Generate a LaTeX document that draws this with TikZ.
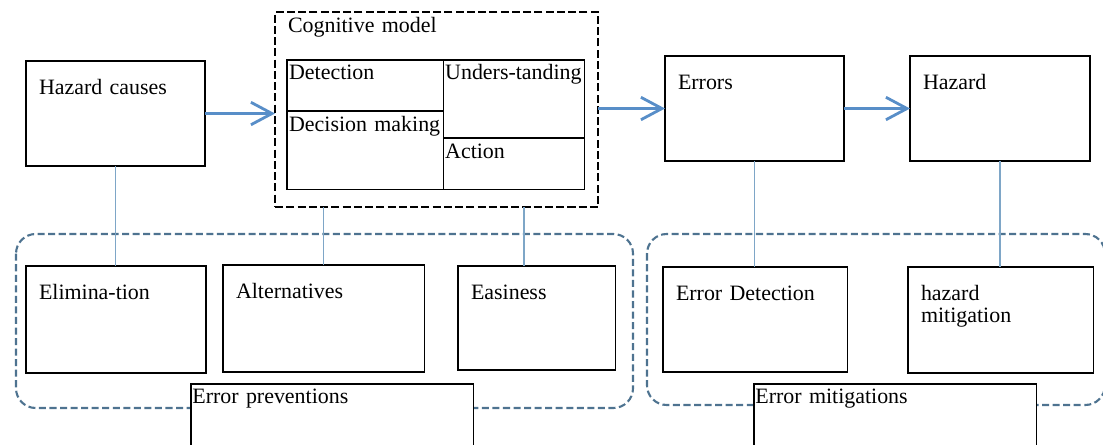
\documentclass[tikz,border=0pt]{standalone}
\usepackage{fontspec}
\setmainfont{Liberation Serif}
\usetikzlibrary{arrows.meta,calc}
\definecolor{flowblue}{RGB}{88,142,200}
\definecolor{linkblue}{RGB}{126,166,199}
\definecolor{groupblue}{RGB}{78,115,144}
\tikzset{
  every node/.style={font=\fontsize{15.6}{16}\selectfont},
  flowbox/.style 2 args={draw, line width=0.8pt, fill=white, anchor=north west,
    outer sep=0pt, inner xsep=9.25pt, inner ysep=0pt, align=left,
    text width=#1, text height=23.5pt, text depth=#2},
  cellbox/.style 2 args={draw, line width=0.8pt, fill=white, anchor=north west,
    outer sep=0pt, inner xsep=1.5pt, inner ysep=0pt, align=left,
    text width=#1, text height=14.2pt, text depth=#2},
  tagbox/.style 2 args={cellbox={#1}{#2}, inner xsep=1pt},
  cogbox/.style={draw, line width=2pt, dash pattern=on 5.7pt off 2.3pt,
    anchor=north west, outer sep=0pt, inner xsep=9.25pt, inner ysep=0pt,
    align=left, text width=211.2pt, text height=14.9pt, text depth=123.8pt},
  flowarrow/.style={draw=flowblue, line width=2pt,
    -{Straight Barb[length=15pt,width=16pt]}},
  linkline/.style={draw=linkblue, line width=0.8pt},
  groupframe/.style={draw=groupblue, line width=1.5pt,
    dash pattern=on 5pt off 2.5pt, rounded corners=14pt}
}

\begin{document}
\begin{tikzpicture}[x=0.025cm, y=-0.025cm]
  \useasboundingbox (0,0) rectangle (1103,445);

  \node[flowbox={108.8pt}{51.2pt}] (hazcause) at (26,61) {Hazard causes};
  \node[cogbox] (cogframe) at (275,12) {Cognitive model};
  \node[cellbox={108pt}{22.1pt}] (detect) at (287,60) {Detection};
  \node[cellbox={108pt}{41.3pt}] (decide) at (detect.south west) {Decision making};
  \node[cellbox={97.3pt}{41.3pt}] (underst) at (detect.north east) {Unders-tanding};
  \node[cellbox={97.3pt}{22.1pt}] (action) at (underst.south west) {Action};
  \node[flowbox={108.8pt}{51.2pt}] (errors) at (665,56) {Errors};
  \node[flowbox={109.5pt}{51.2pt}] (hazard) at (910,56) {Hazard};

  \draw[groupframe] (16,234) rectangle (633,408);
  \draw[groupframe] (647,234) rectangle (1105,405);

  \node[flowbox={109.5pt}{52.6pt}] (elim) at (26,266) {Elimina-tion};
  \node[flowbox={124.5pt}{52.6pt}] (altern) at (223,265) {Alternatives};
  \node[flowbox={93.2pt}{50.5pt}] (easy) at (458,266) {Easiness};
  \node[flowbox={112.4pt}{51.2pt}] (errdet) at (663,267) {Error Detection};
  \node[flowbox={113.1pt}{51.9pt}] (hazmit) at (908,267) {hazard\\mitigation};
  \node[tagbox={198.6pt}{47pt}] (prevent) at (191,384) {Error preventions};
  \node[tagbox={198.6pt}{47pt}] (mitig) at (754,384) {Error mitigations};

  \draw[flowarrow] (hazcause.east) -- (hazcause.east -| cogframe.west);
  \draw[flowarrow] (cogframe.east |- errors.west) -- (errors.west);
  \draw[flowarrow] (errors.east) -- (hazard.west);

  \coordinate (easytap) at ($(easy.north west)!.42!(easy.north east)$);
  \draw[linkline] (hazcause.south) -- (hazcause.south |- elim.north);
  \draw[linkline] (cogframe.south -| altern.north) -- (altern.north);
  \draw[linkline] (cogframe.south -| easytap) -- (easytap);
  \draw[linkline] (errors.south) -- (errors.south |- errdet.north);
  \draw[linkline] (hazard.south) -- (hazard.south |- hazmit.north);
\end{tikzpicture}
\end{document}
